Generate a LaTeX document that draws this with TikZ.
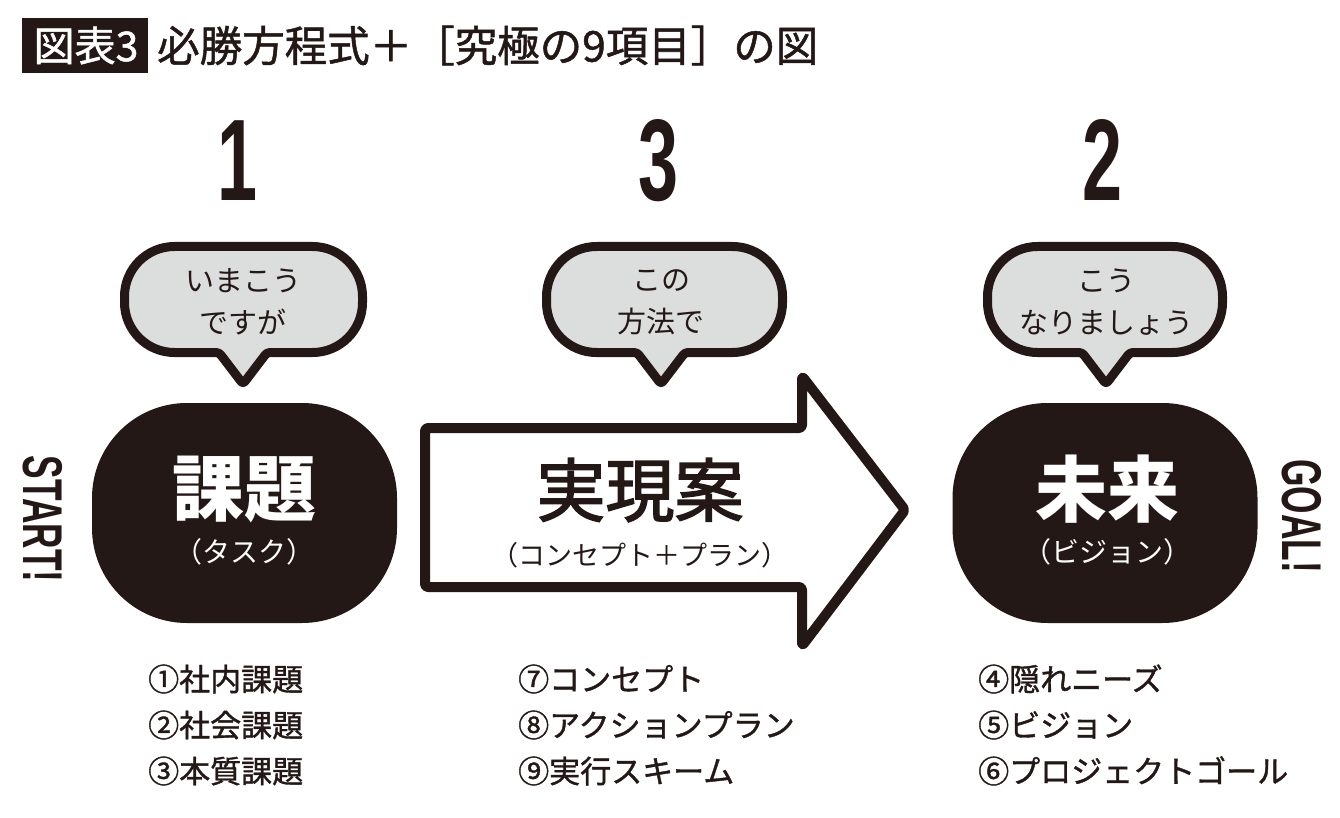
\documentclass[tikz,border=0pt]{standalone}
\usepackage{fontspec}
\setmainfont{Liberation Sans}
\newfontfamily\jp{Noto Sans CJK JP}
\newfontfamily\jpm[FakeBold=1.2]{Noto Sans CJK JP}
\newfontfamily\jpb[FakeBold=2.2]{Noto Sans CJK JP}
\newfontfamily\lat{Liberation Sans}
\definecolor{ink}{HTML}{231815}
\definecolor{bub}{HTML}{DCDDDD}
\tikzset{
  bubline/.style={draw=ink, fill=bub, line width=9pt, line join=round},
  bubtxt/.style={font=\jp\fontsize{29}{42}\selectfont, align=center, text=ink, inner sep=0pt},
  blob/.style={fill=ink, draw=none, rounded corners=95pt, minimum width=305pt, minimum height=220pt, inner sep=0pt},
  bigw/.style={font=\jp\bfseries\fontsize{72}{72}\selectfont, text=white, inner sep=0pt},
  subw/.style={font=\jp\fontsize{28}{28}\selectfont, text=white, inner sep=0pt},
  numtxt/.style={font=\lat\bfseries\fontsize{116}{116}\selectfont, text=ink, inner sep=0pt},
  sidetxt/.style={font=\lat\bfseries\fontsize{56}{56}\selectfont, text=ink, inner sep=0pt, rotate=-90},
  listtxt/.style={font=\jpm\fontsize{31}{46}\selectfont, text=ink, inner sep=0pt, anchor=west, align=left},
  arrowline/.style={draw=ink, fill=white, line width=10pt, line join=round, rounded corners=3pt},
}
\begin{document}
\begin{tikzpicture}[x=1pt,y=-1pt]
\useasboundingbox (0,0) rectangle (1340,818);
% title
\fill[ink] (22,18) rectangle (148,73);
\node[font=\jpm\fontsize{41}{41}\selectfont, text=white, inner sep=0pt] (tag) at (86,45.5) {図表3};
\node[font=\jpm\fontsize{42.5}{42.5}\selectfont, text=ink, inner sep=0pt, anchor=west] (title) at (157,45.5) {必勝方程式＋［究極の9項目］の図};
% numbers
\node[numtxt] (n1) at (237,160.5) {\scalebox{0.62}[1]{1}};
\node[numtxt] (n3) at (658,160.5) {\scalebox{0.62}[1]{3}};
\node[numtxt] (n2) at (1102,160.5) {\scalebox{0.62}[1]{2}};
% bubbles
\draw[bubline, rounded corners=50pt] (243,246.5) -- (362.5,246.5) -- (362.5,352.5) [rounded corners=3pt] -- (267,352.5) -- (243,384) -- (219,352.5) [rounded corners=50pt] -- (124.5,352.5) -- (124.5,246.5) -- cycle;
\node[bubtxt] (b1) at (243,302) {いまこう\\ですが};
\draw[bubline, rounded corners=50pt] (661,246.5) -- (782.5,246.5) -- (782.5,352.5) [rounded corners=3pt] -- (685,352.5) -- (661,384) -- (637,352.5) [rounded corners=50pt] -- (546.5,352.5) -- (546.5,246.5) -- cycle;
\node[bubtxt] (b3) at (661,302) {この\\方法で};
\draw[bubline, rounded corners=50pt] (1106,246.5) -- (1222.5,246.5) -- (1222.5,352.5) [rounded corners=3pt] -- (1130,352.5) -- (1106,384) -- (1082,352.5) [rounded corners=50pt] -- (987.5,352.5) -- (987.5,246.5) -- cycle;
\node[bubtxt] (b2) at (1106,302) {こう\\なりましょう};
% blobs
\node[blob] (task) at (244.5,513) {};
\node[bigw] (taskA) at (244.5,489) {課題};
\node[subw] (taskB) at (244.5,552) {（タスク）};
\node[blob] (goal) at (1105,513) {};
\node[bigw] (goalA) at (1107,489) {未来};
\node[subw] (goalB) at (1107,552) {（ビジョン）};
% arrow
\draw[arrowline] (425,428) -- (802,428) -- (802,376) -- (905,510) -- (802,646) -- (802,587) -- (425,587) -- cycle;
\node[font=\jpb\fontsize{69}{69}\selectfont, text=ink, inner sep=0pt] (plan) at (640,490) {実現案};
\node[font=\jp\fontsize{27}{27}\selectfont, text=ink, inner sep=0pt] (planB) at (640,555) {（コンセプト＋プラン）};
% side labels
\node[sidetxt] (start) at (43,519) {\scalebox{0.63}[1]{START!}};
\node[sidetxt] (goalw) at (1302,516) {\scalebox{0.63}[1]{GOAL!}};
% lists
\node[listtxt] (l1) at (148,725) {①社内課題\\②社会課題\\③本質課題};
\node[listtxt] (l3) at (518,725) {⑦コンセプト\\⑧アクションプラン\\⑨実行スキーム};
\node[listtxt] (l2) at (978,725) {④隠れニーズ\\⑤ビジョン\\⑥プロジェクトゴール};
\end{tikzpicture}
\end{document}
